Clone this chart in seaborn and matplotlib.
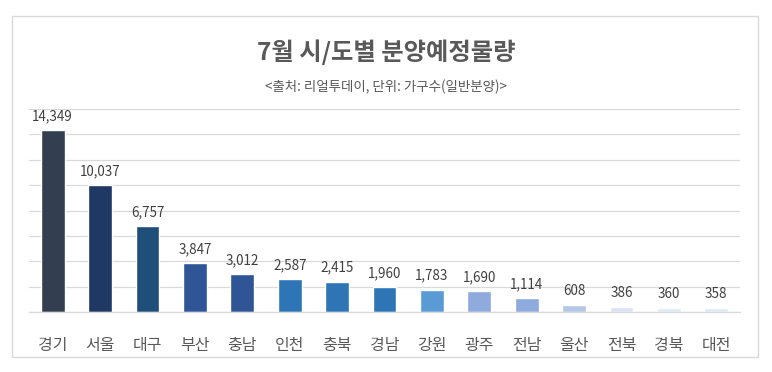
import pandas as pd
import matplotlib.pyplot as plt
import seaborn as sns
from matplotlib.patches import Rectangle

# 7월 시/도별 분양예정물량 (단위: 가구수, 일반분양)
regions = ["경기", "서울", "대구", "부산", "충남", "인천", "충북", "경남",
           "강원", "광주", "전남", "울산", "전북", "경북", "대전"]
households = [14349, 10037, 6757, 3847, 3012, 2587, 2415, 1960,
              1783, 1690, 1114, 608, 386, 360, 358]
bar_colors = ["#333F50", "#203864", "#1F4E79", "#2F5597", "#2F5597",
              "#2E75B6", "#2E75B6", "#2E75B6", "#5B9BD5", "#8FAADC",
              "#8FAADC", "#B4C7E7", "#DAE3F3", "#DEEBF7", "#DEEBF7"]


def main():
    sns.set_theme(style="white")
    plt.rcParams['font.family'] = ['Noto Sans CJK KR', 'DejaVu Sans']

    df = pd.DataFrame({"region": regions, "value": households})
    palette = dict(zip(regions, bar_colors))

    fig = plt.figure(figsize=(7.72, 3.72), dpi=100)
    ax = fig.add_axes([29 / 772, 1 - 312.3 / 372, 711 / 772, 203.3 / 372])

    sns.barplot(data=df, x="region", y="value", hue="region", palette=palette,
                order=regions, width=0.5, legend=False, ax=ax, saturation=1)

    for c in ax.containers:
        ax.bar_label(c, fmt="{:,.0f}", padding=5, fontsize=9.7, color="#404040")

    ax.set_ylim(0, 16000)
    ax.set_yticks(range(0, 16001, 2000))
    ax.yaxis.grid(True, color="#D9D9D9", linewidth=0.9)
    ax.set_axisbelow(True)
    ax.tick_params(axis="y", left=False, labelleft=False)
    ax.tick_params(axis="x", bottom=False, pad=12, labelsize=11.5, labelcolor="#595959")
    ax.set_xlabel("")
    ax.set_ylabel("")
    for side in ["top", "left", "right"]:
        ax.spines[side].set_visible(False)
    ax.spines["bottom"].set_color("#D9D9D9")
    ax.spines["bottom"].set_linewidth(0.9)

    # chart frame
    fig.patches.append(Rectangle((12 / 772, 1 - 357 / 372), 746 / 772, 341 / 372,
                                 transform=fig.transFigure, fill=False,
                                 edgecolor="#D9D9D9", linewidth=1))

    fig.text(0.5, 1 - 52 / 372, "7월 시/도별 분양예정물량", ha="center", va="center",
             fontsize=17.5, fontweight="bold", color="#595959")
    fig.text(0.5, 1 - 87 / 372, "<출처: 리얼투데이, 단위: 가구수(일반분양)>",
             ha="center", va="center", fontsize=9.7, color="#595959")

    fig.savefig("out.png", dpi=100)


if __name__ == "__main__":
    main()
